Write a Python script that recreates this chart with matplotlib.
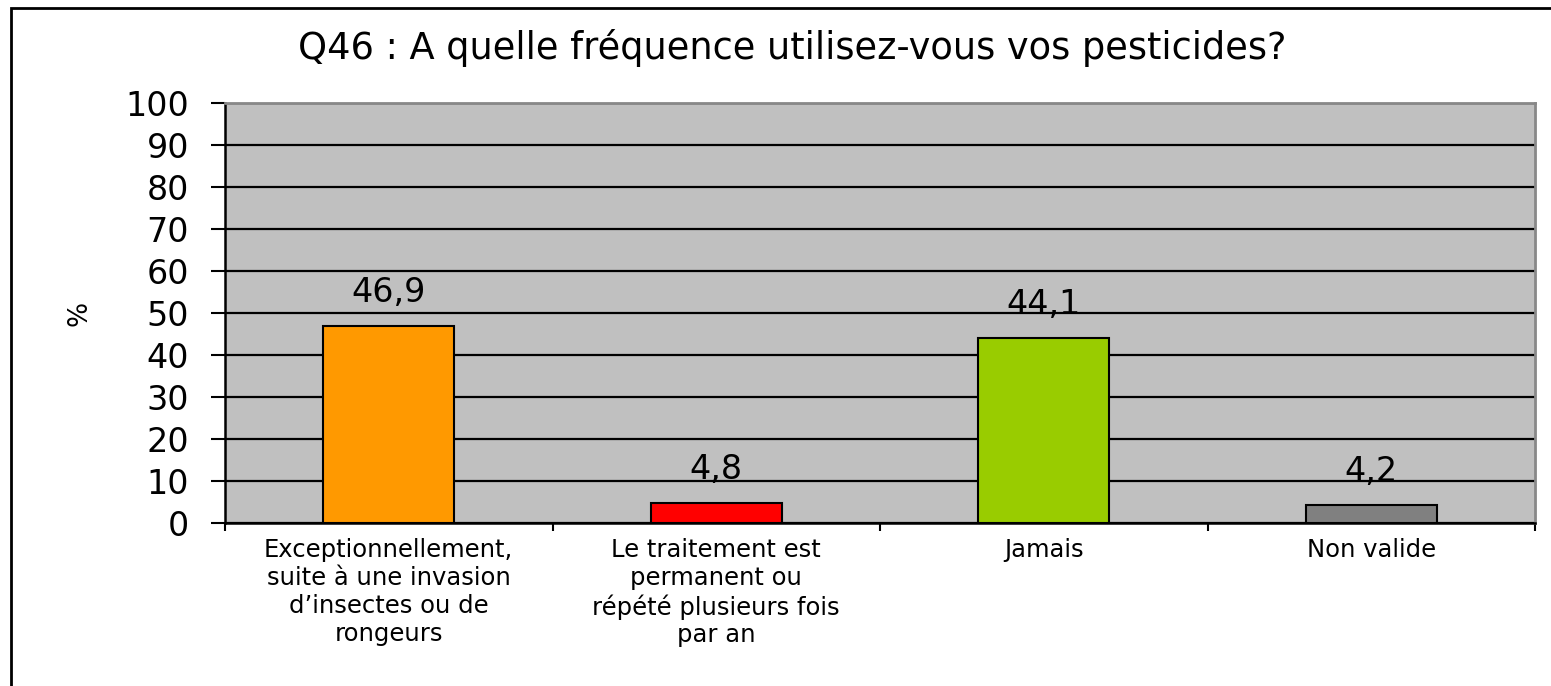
import matplotlib.pyplot as plt
from matplotlib.patches import Rectangle

# donnees
categories = ['Exceptionnellement,\nsuite à une invasion\nd\u2019insectes ou de\nrongeurs',
              'Le traitement est\npermanent ou\nrépété plusieurs fois\npar an',
              'Jamais',
              'Non valide']
valeurs = [46.9, 4.8, 44.1, 4.2]
etiquettes = ['46,9', '4,8', '44,1', '4,2']
couleurs = ['#FF9900', '#FF0000', '#99CC00', '#808080']
yticks = list(range(0, 101, 10))

plt.rcParams['font.family'] = ['DejaVu Sans']

W, H = 1551, 686
fig = plt.figure(figsize=(W / 100, H / 100), dpi=100)

# cadre exterieur (gauche et haut visibles)
fig.patches.append(Rectangle((11 / W, -0.1), 1.2, (H - 8) / H + 0.1, transform=fig.transFigure,
                             fill=False, edgecolor='black', linewidth=2))

ax = fig.add_axes([225 / W, 1 - 523 / H, (1535 - 225) / W, (523 - 103) / H])
ax.set_facecolor('#C0C0C0')

x = list(range(len(categories)))
ax.bar(x, valeurs, width=0.4, color=couleurs, edgecolor='black', linewidth=1.5, zorder=3)

# etiquettes de valeurs
for xi, v, t in zip(x, valeurs, etiquettes):
    ax.text(xi, v + 5.7, t, ha='center', va='baseline', fontsize=24, zorder=4)

ax.set_xlim(-0.5, 3.5)
ax.set_ylim(0, 100)
ax.set_yticks(yticks)
ax.set_yticklabels([str(v) for v in yticks], fontsize=24)
ax.yaxis.grid(True, color='black', linewidth=1.6, zorder=1)
ax.set_axisbelow(True)

ax.set_xticks([-0.5, 0.5, 1.5, 2.5, 3.5])
ax.set_xticklabels([])
ax.set_xticks(x, minor=True)
ax.set_xticklabels(categories, minor=True, fontsize=17.5, linespacing=1.2, va='top')
ax.tick_params(axis='x', which='minor', length=0, pad=11)
ax.tick_params(axis='x', which='major', length=6, width=1.5, direction='out')
ax.tick_params(axis='y', length=10, width=1.5, direction='out', pad=16)

ax.spines['left'].set_linewidth(1.8)
ax.spines['bottom'].set_linewidth(1.8)
ax.spines['top'].set_color('#888888')
ax.spines['right'].set_color('#888888')
ax.spines['top'].set_linewidth(2)
ax.spines['right'].set_linewidth(2)

fig.text(80 / W, 1 - 313 / H, '%', rotation=90, ha='center', va='center', fontsize=19)

fig.text(792 / W, 1 - 48 / H, 'Q46 : A quelle fréquence utilisez-vous vos pesticides?',
         ha='center', va='center', fontsize=26.5)

fig.savefig('out.png', dpi=100)
